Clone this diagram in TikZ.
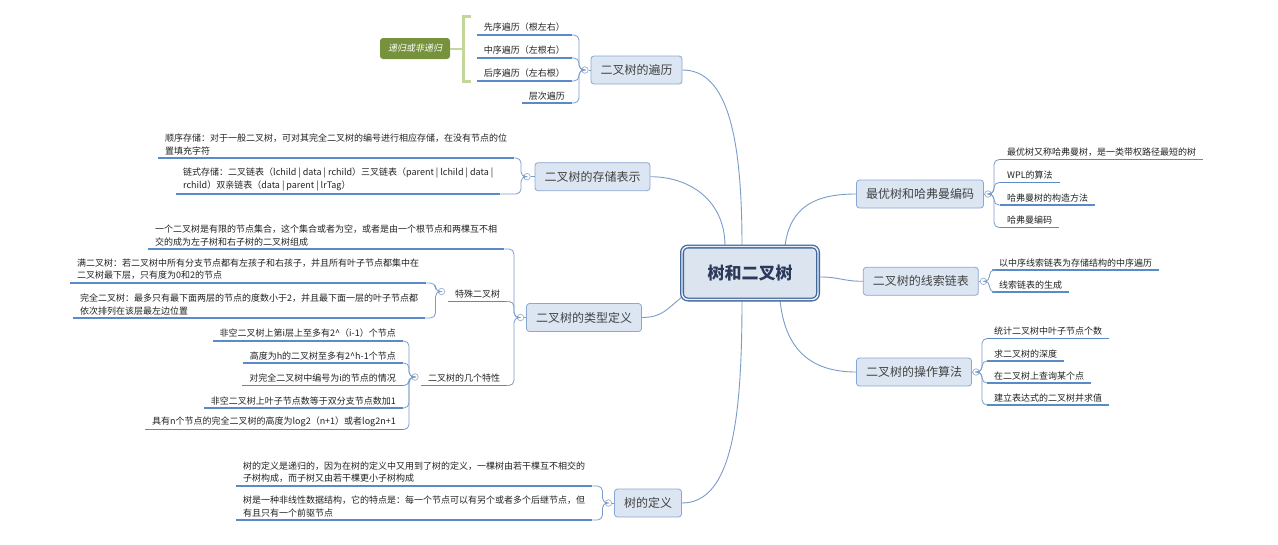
\documentclass[tikz,border=0pt]{standalone}
\usepackage{fontspec}
\setmainfont{Noto Sans CJK SC}
\newfontfamily\slantcjk[FakeSlant=0.2]{Noto Sans CJK SC}
\usetikzlibrary{calc}
\definecolor{topicfill}{HTML}{DCE6F2}
\definecolor{topicdraw}{HTML}{8AA6D2}
\definecolor{rootfill}{HTML}{DCE4F0}
\definecolor{rootdraw}{HTML}{41689F}
\definecolor{roottext}{HTML}{2B3A5A}
\definecolor{ulinec}{HTML}{5B8AC9}
\definecolor{branchc}{HTML}{7A9CCB}
\definecolor{knobc}{HTML}{9BB0CC}
\definecolor{textc}{HTML}{222222}
\definecolor{tagfill}{HTML}{76923C}
\definecolor{bracec}{HTML}{C4D79B}
\begin{document}
\begin{tikzpicture}[x=1pt,y=-1pt,
  topic/.style={draw=topicdraw, fill=topicfill, rounded corners=3pt, line width=0.8pt,
    font=\fontsize{12}{14}\selectfont, text=textc!85, inner xsep=9.5pt, inner ysep=0pt, minimum height=28pt},
  root/.style={draw=rootdraw, line width=1.3pt, double=rootfill!50!white, double distance=1.4pt,
    fill=rootfill, rounded corners=6pt, font=\fontsize{17}{20}\selectfont\bfseries, text=roottext,
    minimum width=136pt, minimum height=53pt},
  leaf/.style={font=\fontsize{9}{12.5}\selectfont, text=textc, inner xsep=7pt, inner ysep=3pt, align=left},
  leafr/.style={leaf, align=right},
  uline/.style={ulinec, line width=1.8pt},
  branch/.style={branchc, line width=0.8pt, rounded corners=5pt},
  link/.style={branchc, line width=0.9pt},
  knob/.style={circle, draw=knobc, fill=white, line width=0.7pt, minimum size=6.5pt, inner sep=0pt},
  tag/.style={fill=tagfill, rounded corners=3pt, text=white, font=\slantcjk\fontsize{9}{11}\selectfont,
    minimum width=70pt, minimum height=21pt, inner sep=0pt},
  bracket/.style={bracec, line width=3pt},
  bracelink/.style={bracec, line width=2pt}]
\useasboundingbox[fill=white] (0,0) rectangle (1278,544);

% ---------- topic nodes ----------
\node[topic] (trav) at (636.5,70) {二叉树的遍历};
\node[topic] (stor) at (592.5,176.7) {二叉树的存储表示};
\node[topic] (type) at (584,317.5) {二叉树的类型定义};
\node[topic] (tdef) at (648,503) {树的定义};
\node[topic] (huff) at (920,194) {最优树和哈弗曼编码};
\node[topic] (thrd) at (920.8,281.3) {二叉树的线索链表};
\node[topic] (algo) at (914,372) {二叉树的操作算法};

% ---------- root connectors and root ----------
\coordinate (r1) at (742,246);
\coordinate (r2) at (725,246);
\coordinate (r3) at (785,246);
\coordinate (r4) at (820,277);
\coordinate (r5) at (780,300);
\coordinate (r6) at (742,300);
\coordinate (r7) at (682,297);
\draw[link] (r1) .. controls +(0,-110) and +(45,0) .. (trav.east);
\draw[link] (r2) .. controls +(0,-45) and +(40,0) .. (stor.east);
\draw[link] (r3) .. controls +(5,-40) and +(-40,0) .. (huff.west);
\draw[link] (r4) .. controls +(20,0) and +(-20,0) .. (thrd.west);
\draw[link] (r5) .. controls +(5,50) and +(-45,0) .. (algo.west);
\draw[link] (r6) .. controls +(0,120) and +(50,0) .. (tdef.east);
\draw[link] (r7) .. controls +(-15,12) and +(20,0) .. (type.east);
\node[root] (root) at (750,273) {树和二叉树};

% ---------- knobs and trunks ----------
\node[knob] (travk) at (585,70) {};
\node[knob] (stork) at (527,176.7) {};
\node[knob] (typek) at (520.5,317.5) {};
\node[knob] (tdefk) at (608.5,503) {};
\node[knob] (huffk) at (988,194) {};
\node[knob] (thrdk) at (983.5,281.3) {};
\node[knob] (algok) at (976,372) {};
\node[knob] (spek) at (441.5,291.5) {};
\node[knob] (propk) at (415,377) {};
\draw[link] (travk) -- (trav.west);
\draw[link] (stork) -- (stor.west);
\draw[link] (typek) -- (type.west);
\draw[link] (tdefk) -- (tdef.west);
\draw[link] (huffk) -- (huff.east);
\draw[link] (thrdk) -- (thrd.east);
\draw[link] (algok) -- (algo.east);
\coordinate (travtr) at (579,70);
\coordinate (stortr) at (521,176.7);
\coordinate (typetr) at (514,317.5);
\coordinate (tdeftr) at (602.5,503);
\coordinate (hufftr) at (994,194);
\coordinate (thrdtr) at (989.5,281.3);
\coordinate (algotr) at (982,372);
\coordinate (spetr) at (435.5,291.5);
\coordinate (proptr) at (409,377);

% ---------- traversal ----------
\node[leafr, anchor=south east] (tv1) at (572,35) {先序遍历（根左右）};
\node[leafr, anchor=south east] (tv2) at (572,58) {中序遍历（左根右）};
\node[leafr, anchor=south east] (tv3) at (572,81) {后序遍历（左右根）};
\node[leafr, anchor=south east] (tv4) at (572,103) {层次遍历};
\foreach \n in {tv1,tv2,tv3,tv4}{
  \draw[uline] (\n.south west) -- (\n.south east);
  \draw[branch] (\n.south east) -| (travtr) -- (travk);
}
\node[tag] (tag) at (415,48.5) {递归或非递归};
\coordinate (brk) at (463,48.5);
\draw[bracket] (471,16) -- (463,16) -- (463,81) -- (471,81);
\draw[bracelink] (tag.east) -- (brk);

% ---------- storage ----------
\node[leaf, anchor=south west] (st1) at (158,158) {顺序存储：对于一般二叉树，可对其完全二叉树的编号进行相应存储，在没有节点的位\\置填充字符};
\node[leaf, anchor=south west] (st2) at (176,194) {链式存储：二叉链表（lchild | data | rchild）三叉链表（parent | lchild | data |\\rchild）双亲链表（data | parent | lrTag）};
\foreach \n in {st1,st2}{
  \draw[uline] (\n.south west) -- (\n.south east);
  \draw[branch] (\n.south east) -| (stortr) -- (stork);
}

% ---------- types ----------
\node[leaf, anchor=south west] (ty1) at (148,249) {一个二叉树是有限的节点集合，这个集合或者为空，或者是由一个根节点和两棵互不相\\交的成为左子树和右子树的二叉树组成};
\node[leaf, anchor=south west] (ty2) at (448,301.5) {特殊二叉树};
\node[leaf, anchor=south west] (ty3) at (421,385.5) {二叉树的几个特性};
\foreach \n in {ty1,ty2,ty3}{
  \draw[uline] (\n.south west) -- (\n.south east);
  \draw[branch] (\n.south east) -| (typetr) -- (typek);
}
\node[leaf, anchor=south west] (ty2a) at (70,283) {满二叉树：若二叉树中所有分支节点都有左孩子和右孩子，并且所有叶子节点都集中在\\二叉树最下层，只有度为0和2的节点};
\node[leaf, anchor=south west] (ty2b) at (73,318) {完全二叉树：最多只有最下面两层的节点的度数小于2，并且最下面一层的叶子节点都\\依次排列在该层最左边位置};
\foreach \n in {ty2a,ty2b}{
  \draw[uline] (\n.south west) -- (\n.south east);
  \draw[branch] (\n.south east) -| (spetr) -- (spek);
}
\node[leafr, anchor=south east] (p1) at (403,341) {非空二叉树上第i层上至多有2\textasciicircum（i-1）个节点};
\node[leafr, anchor=south east] (p2) at (403,363) {高度为h的二叉树至多有2\textasciicircum h-1个节点};
\node[leafr, anchor=south east] (p3) at (403,385.5) {对完全二叉树中编号为i的节点的情况};
\node[leafr, anchor=south east] (p4) at (403,408) {非空二叉树上叶子节点数等于双分支节点数加1};
\node[leafr, anchor=south east] (p5) at (403,429.5) {具有n个节点的完全二叉树的高度为log2（n+1）或者log2n+1};
\foreach \n in {p1,p2,p3,p4,p5}{
  \draw[uline] (\n.south west) -- (\n.south east);
  \draw[branch] (\n.south east) -| (proptr) -- (propk);
}

% ---------- tree definition ----------
\node[leaf, anchor=south west] (d1) at (236,486) {树的定义是递归的，因为在树的定义中又用到了树的定义，一棵树由若干棵互不相交的\\子树构成，而子树又由若干棵更小子树构成};
\node[leaf, anchor=south west] (d2) at (236,520) {树是一种非线性数据结构，它的特点是：每一个节点可以有另个或者多个后继节点，但\\有且只有一个前驱节点};
\foreach \n in {d1,d2}{
  \draw[uline] (\n.south west) -- (\n.south east);
  \draw[branch] (\n.south east) -| (tdeftr) -- (tdefk);
}

% ---------- huffman ----------
\node[leaf, anchor=south west] (h1) at (1000,159.5) {最优树又称哈弗曼树，是一类带权路径最短的树};
\node[leaf, anchor=south west] (h2) at (1000,182.5) {WPL的算法};
\node[leaf, anchor=south west] (h3) at (1000,205) {哈弗曼树的构造方法};
\node[leaf, anchor=south west] (h4) at (1000,227.5) {哈弗曼编码};
\foreach \n in {h1,h2,h3,h4}{
  \draw[uline] (\n.south west) -- (\n.south east);
  \draw[branch] (\n.south west) -| (hufftr) -- (huffk);
}

% ---------- threaded ----------
\node[leaf, anchor=south west] (th1) at (992,270) {以中序线索链表为存储结构的中序遍历};
\node[leaf, anchor=south west] (th2) at (992,292) {线索链表的生成};
\foreach \n in {th1,th2}{
  \draw[uline] (\n.south west) -- (\n.south east);
  \draw[branch] (\n.south west) -| (thrdtr) -- (thrdk);
}

% ---------- algorithms ----------
\node[leaf, anchor=south west] (a1) at (987,338.5) {统计二叉树中叶子节点个数};
\node[leaf, anchor=south west] (a2) at (987,361) {求二叉树的深度};
\node[leaf, anchor=south west] (a3) at (987,383) {在二叉树上查询某个点};
\node[leaf, anchor=south west] (a4) at (987,405) {建立表达式的二叉树并求值};
\foreach \n in {a1,a2,a3,a4}{
  \draw[uline] (\n.south west) -- (\n.south east);
  \draw[branch] (\n.south west) -| (algotr) -- (algok);
}
\end{tikzpicture}
\end{document}
